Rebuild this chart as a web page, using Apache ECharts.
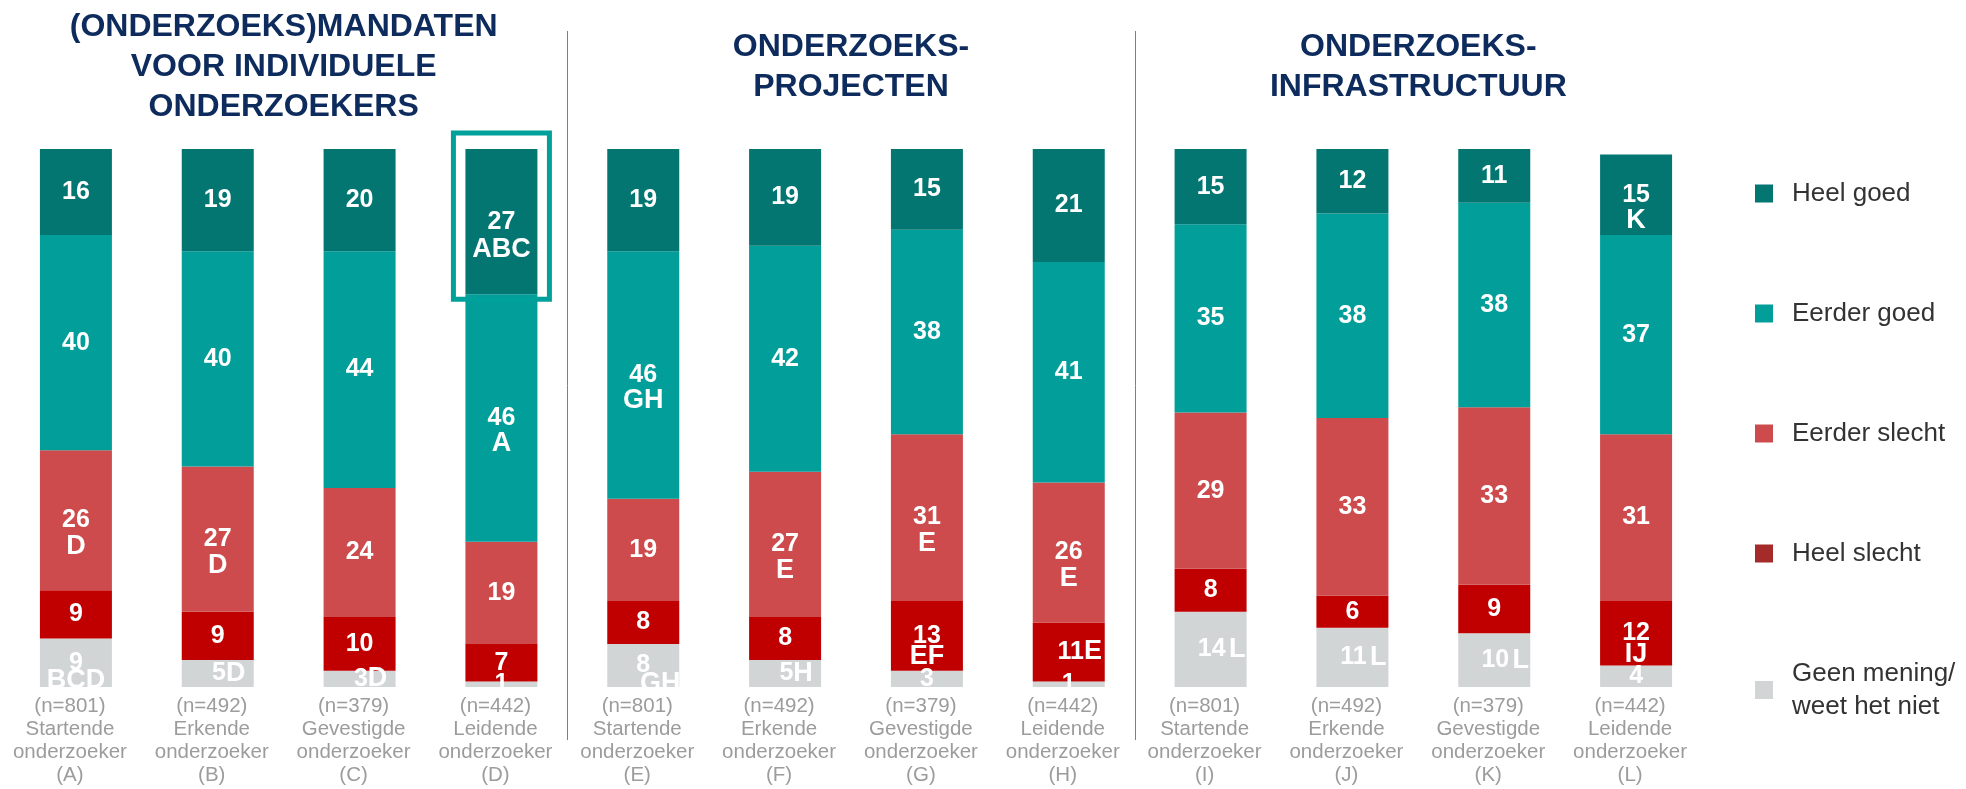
<!DOCTYPE html>
<html>
<head>
<meta charset="utf-8">
<script src="https://cdn.jsdelivr.net/npm/echarts@6/dist/echarts.min.js"></script>
<style>
  html, body { margin: 0; padding: 0; background: #fff; }
  #chart { width: 1966px; height: 789px; }
</style>
</head>
<body>
<div id="chart"></div>
<script>
// categorieën (12 kolommen, 3 groepen van 4)
var roles = ["Startende", "Erkende", "Gevestigde", "Leidende",
             "Startende", "Erkende", "Gevestigde", "Leidende",
             "Startende", "Erkende", "Gevestigde", "Leidende"];
var sampleSizes = [801, 492, 379, 442, 801, 492, 379, 442, 801, 492, 379, 442];
var colLetters = ["A", "B", "C", "D", "E", "F", "G", "H", "I", "J", "K", "L"];
var groupTitles = [
  "(ONDERZOEKS)MANDATEN\nVOOR INDIVIDUELE\nONDERZOEKERS",
  "ONDERZOEKS-\nPROJECTEN",
  "ONDERZOEKS-\nINFRASTRUCTUUR"
];

// waarden (%)
var heelGoed     = [16, 19, 20, 27, 19, 19, 15, 21, 15, 12, 11, 15];
var eerderGoed   = [40, 40, 44, 46, 46, 42, 38, 41, 35, 38, 38, 37];
var eerderSlecht = [26, 27, 24, 19, 19, 27, 31, 26, 29, 33, 33, 31];
var heelSlecht   = [9, 9, 10, 7, 8, 8, 13, 11, 8, 6, 9, 12];
var geenMening   = [9, 5, 3, 1, 8, 5, 3, 1, 14, 11, 10, 4];

// significantie-letters
var heelGoedSig     = ["", "", "", "ABC", "", "", "", "", "", "", "", "K"];
var eerderGoedSig   = ["", "", "", "A", "GH", "", "", "", "", "", "", ""];
var eerderSlechtSig = ["D", "D", "", "", "", "E", "E", "E", "", "", "", ""];
var heelSlechtSig   = ["", "", "", "", "", "", "EF", "E", "", "", "", "IJ"];
var geenMeningSig   = ["BCD", "D", "D", "", "GH", "H", "", "", "L", "L", "L", ""];

var categories = roles.map(function (r, i) {
  return "(n=" + sampleSizes[i] + ")\n" + r + "\nonderzoeker\n(" + colLetters[i] + ")";
});

// label-layout: inline (getal+letter op 1 regel) of strakke regelafstand
var inlineLabels = { "geen:1": 1, "geen:2": 1, "geen:5": 1, "geen:8": 1, "geen:9": 1, "geen:10": 1, "hs:7": 1 };
var tightLabels = { "geen:0": 18, "geen:4": 18, "hs:6": 21, "hs:11": 21, "hg:3": 28 };

var FONT = "Liberation Sans";

function buildData(key, values, sigs) {
  return values.map(function (v, i) {
    var sig = sigs[i];
    var item = { value: v };
    var id = key + ":" + i;
    if (!sig) {
      item.label = { formatter: "{v|" + v + "}" };
    } else if (inlineLabels[id]) {
      var sep = v >= 10 && key === "geen" ? " " : "";
      item.label = { formatter: "{v|" + v + "}" + sep + "{s|" + sig + "}", offset: [11, 0] };
    } else {
      var lh = tightLabels[id] || 26;
      var sKey = key === "geen" && i === 4 ? "g" : "s";
      item.label = {
        formatter: "{v|" + v + "}\n{" + sKey + "|" + sig + "}",
        offset: [0, lh / 2],
        rich: {
          v: { fontSize: 25, fontWeight: "bold", color: "#fff", lineHeight: lh, fontFamily: FONT },
          s: { fontSize: 27, fontWeight: "bold", color: "#fff", lineHeight: lh, fontFamily: FONT },
          g: { fontSize: 27, fontWeight: "bold", color: "#fff", lineHeight: lh, fontFamily: FONT, padding: [0, 0, 0, 34] }
        }
      };
    }
    return item;
  });
}

var labelRich = {
  v: { fontSize: 25, fontWeight: "bold", color: "#fff", lineHeight: 26, fontFamily: FONT },
  s: { fontSize: 27, fontWeight: "bold", color: "#fff", lineHeight: 26, fontFamily: FONT }
};

function makeSeries(name, key, values, sigs, color) {
  return {
    name: name,
    type: "bar",
    stack: "tot",
    barWidth: 72,
    itemStyle: { color: color },
    label: { show: true, position: "inside", rich: labelRich },
    data: buildData(key, values, sigs)
  };
}

var chart = echarts.init(document.getElementById("chart"));
var option = {
  animation: false,
  textStyle: { fontFamily: FONT },
  grid: { left: 5, right: 259, top: 149, bottom: 102, containLabel: false },
  legend: {
    orient: "vertical",
    left: 1750,
    top: 172,
    itemWidth: 18,
    itemHeight: 18,
    itemGap: 87,
    icon: "rect",
    textStyle: { fontSize: 26, lineHeight: 33, color: "#333", fontFamily: FONT, padding: [0, 0, 0, 14] },
    data: [
      { name: "Heel goed", itemStyle: { color: "#037672" } },
      { name: "Eerder goed", itemStyle: { color: "#029e9a" } },
      { name: "Eerder slecht", itemStyle: { color: "#cd4b4d" } },
      { name: "Heel slecht", itemStyle: { color: "#a52b2b" } },
      { name: "Geen mening/\nweet het niet", itemStyle: { color: "#d2d5d6" } }
    ]
  },
  xAxis: {
    type: "category",
    data: categories,
    axisLine: { show: false },
    axisTick: { show: false },
    axisLabel: { interval: 0, color: "#9c9c9c", fontSize: 20.5, lineHeight: 23, margin: 8, padding: [0, 12, 0, 0], fontFamily: FONT }
  },
  yAxis: { type: "value", min: 0, max: 100, show: false },
  series: [
    makeSeries("Geen mening/\nweet het niet", "geen", geenMening, geenMeningSig, "#d2d5d6"),
    makeSeries("Heel slecht", "hs", heelSlecht, heelSlechtSig, "#c00000"),
    makeSeries("Eerder slecht", "es", eerderSlecht, eerderSlechtSig, "#cd4b4d"),
    makeSeries("Eerder goed", "eg", eerderGoed, eerderGoedSig, "#029e9a"),
    makeSeries("Heel goed", "hg", heelGoed, heelGoedSig, "#037672")
  ]
};
chart.setOption(option);

// extra elementen op basis van de assen
function px(i, v) { return chart.convertToPixel({ gridIndex: 0 }, [categories[i], v]); }
var base = px(0, 0)[1];
var graphics = [];

// wit afdekvlak zodat labels onder de balken afgesneden worden
graphics.push({ type: "rect", z: 50, shape: { x: 0, y: base + 1, width: 1740, height: 7 }, style: { fill: "#fff" } });

// scheidingslijnen tussen de groepen
[3, 7].forEach(function (i) {
  var x = Math.round((px(i, 0)[0] + px(i + 1, 0)[0]) / 2) - 4.5;
  graphics.push({ type: "line", z: 60, shape: { x1: x, y1: 31, x2: x, y2: 740 }, style: { stroke: "#7f7f7f", lineWidth: 1 } });
});

// groepstitels
groupTitles.forEach(function (t, g) {
  var cx = (px(g * 4, 0)[0] + px(g * 4 + 3, 0)[0]) / 2 - 5;
  graphics.push({
    type: "text", z: 60, x: cx, y: 67,
    style: { text: t, fill: "#0d2b5c", font: "bold 32px " + FONT, lineHeight: 40, align: "center", verticalAlign: "middle" }
  });
});

// kader rond 'Heel goed' bij Leidende onderzoeker (D)
var d = 3;
var below = geenMening[d] + heelSlecht[d] + eerderSlecht[d] + eerderGoed[d];
var topPx = px(d, below + heelGoed[d]);
var botPx = px(d, below);
graphics.push({
  type: "rect", z: 60,
  shape: { x: topPx[0] - 48, y: topPx[1] - 16, width: 96, height: botPx[1] - topPx[1] + 21 },
  style: { fill: "none", stroke: "#00a19b", lineWidth: 5 }
});

chart.setOption({ graphic: graphics });
</script>
</body>
</html>
